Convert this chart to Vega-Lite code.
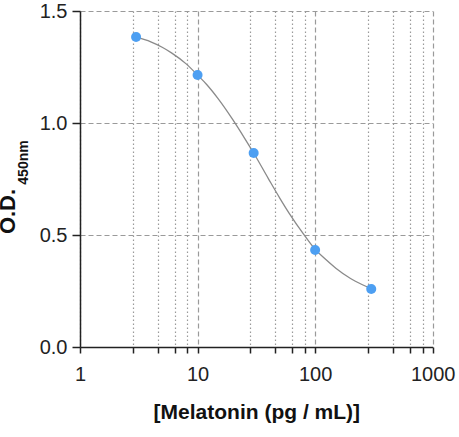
{
  "$schema": "https://vega.github.io/schema/vega-lite/v6.json",
  "width": 352.7,
  "height": 336,
  "autosize": {"type": "none"},
  "padding": {"left": 80, "top": 11, "right": 26.3, "bottom": 90},
  "background": "white",
  "config": {"view": {"stroke": null}, "font": "Liberation Sans"},
  "datasets": {
    "curve": [
      {"conc": 3, "od": 1.384},
      {"conc": 4, "od": 1.362},
      {"conc": 5, "od": 1.338},
      {"conc": 6, "od": 1.313},
      {"conc": 8, "od": 1.264},
      {"conc": 10, "od": 1.214},
      {"conc": 12, "od": 1.171},
      {"conc": 15, "od": 1.108},
      {"conc": 20, "od": 1.014},
      {"conc": 25, "od": 0.934},
      {"conc": 30, "od": 0.866},
      {"conc": 40, "od": 0.752},
      {"conc": 50, "od": 0.665},
      {"conc": 60, "od": 0.598},
      {"conc": 80, "od": 0.503},
      {"conc": 100, "od": 0.436},
      {"conc": 120, "od": 0.396},
      {"conc": 150, "od": 0.352},
      {"conc": 200, "od": 0.306},
      {"conc": 250, "od": 0.279},
      {"conc": 300, "od": 0.26}
    ],
    "points": [
      {"conc": 3, "od": 1.384},
      {"conc": 10, "od": 1.214},
      {"conc": 30, "od": 0.866},
      {"conc": 100, "od": 0.433},
      {"conc": 300, "od": 0.259}
    ]
  },
  "resolve": {"axis": {"y": "independent"}},
  "layer": [
    {
      "data": {"name": "curve"},
      "mark": {"type": "line", "color": "#8a8a8a", "strokeWidth": 1.3, "interpolate": "monotone"},
      "encoding": {
        "x": {
          "field": "conc",
          "type": "quantitative",
          "scale": {"type": "log", "domain": [1, 1000], "nice": false},
          "axis": {
            "values": [1, 2.8, 4.6, 6.4, 8.2, 10, 28, 46, 64, 82, 100, 280, 460, 640, 820, 1000],
            "labelExpr": "(datum.value == 1 || datum.value == 10 || datum.value == 100 || datum.value == 1000) ? format(datum.value, 'd') : ''",
            "labelOverlap": false,
            "labelFlush": false,
            "labelFontSize": 20,
            "labelColor": "#222222",
            "labelPadding": 11,
            "tickSize": 6,
            "tickColor": "#222222",
            "tickWidth": 1.5,
            "domainColor": "#222222",
            "domainWidth": 1.5,
            "grid": true,
            "gridColor": "#9a9a9a",
            "gridWidth": 1.2,
            "gridDash": {
              "condition": {"test": "datum.value == 10 || datum.value == 100 || datum.value == 1000", "value": [5, 3]},
              "value": [1.5, 2.5]
            },
            "title": "[Melatonin (pg / mL)]",
            "titleFontSize": 21,
            "titleFontWeight": "bold",
            "titleColor": "#111111",
            "titleY": 65,
            "titleBaseline": "middle"
          }
        },
        "y": {
          "field": "od",
          "type": "quantitative",
          "scale": {"domain": [0, 1.5], "nice": false},
          "axis": {
            "orient": "left",
            "values": [0, 0.5, 1, 1.5],
            "format": ".1f",
            "labelFontSize": 20,
            "labelColor": "#222222",
            "labelPadding": 5,
            "tickSize": 8,
            "tickColor": "#222222",
            "tickWidth": 1.5,
            "domainColor": "#222222",
            "domainWidth": 1.5,
            "grid": true,
            "gridColor": "#9a9a9a",
            "gridWidth": 1.2,
            "gridDash": [5, 3],
            "title": "O.D.",
            "titleFontSize": 22,
            "titleFontWeight": "bold",
            "titleColor": "#111111",
            "titleX": -73,
            "titleY": 200,
            "titleAlign": "center",
            "titleBaseline": "middle"
          }
        }
      }
    },
    {
      "data": {"name": "points"},
      "mark": {"type": "circle", "size": 100, "color": "#4d9ff2", "opacity": 1},
      "encoding": {
        "x": {"field": "conc", "type": "quantitative"},
        "y": {
          "field": "od",
          "type": "quantitative",
          "axis": {
            "orient": "left",
            "domain": false,
            "ticks": false,
            "labels": false,
            "grid": false,
            "title": "450nm",
            "titleFontSize": 14,
            "titleFontWeight": "bold",
            "titleColor": "#111111",
            "titleX": -57,
            "titleY": 151,
            "titleAlign": "center",
            "titleBaseline": "middle"
          }
        }
      }
    }
  ]
}
